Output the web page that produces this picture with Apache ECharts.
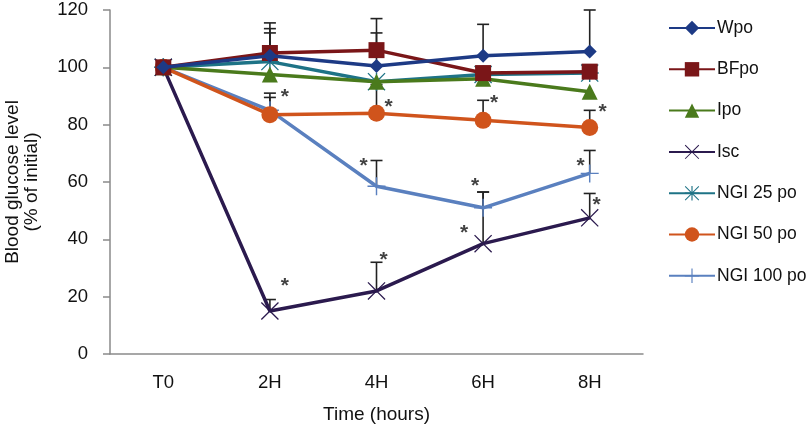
<!DOCTYPE html>
<html><head><meta charset="utf-8">
<script src="https://cdn.jsdelivr.net/npm/echarts@6/dist/echarts.min.js"></script>
<style>html,body{margin:0;padding:0;background:#fff}#c{width:810px;height:428px}</style>
</head><body><div id="c"></div>
<script>
// ---- data ----
var categories = ['T0', '2H', '4H', '6H', '8H'];
var seriesNames = ['Wpo', 'BFpo', 'Ipo', 'Isc', 'NGI 25 po', 'NGI 50 po', 'NGI 100 po'];
var wpo    = [100, 104, 100.5, 104, 105.5];
var bfpo   = [100, 105, 106, 98, 98.5];
var ipo    = [100, 97.5, 95, 96, 91.5];
var isc    = [100, 15, 22, 38.5, 47.5];
var ngi25  = [100, 102, 95, 97.5, 98];
var ngi50  = [100, 83.5, 84, 81.5, 79];
var ngi100 = [100, 85, 58.5, 51, 63];
// upper end of error bars
var wpoErr    = [null, 115.5, 112, 115, 120];
var bfpoErr   = [null, 113.5, 117, null, null];
var ngi25Err  = [null, 112, null, null, null];
var iscErr    = [null, 19, 32, 56.5, 56];
var ngi50Err  = [null, 89.5, 94, 88.5, 85];
var ngi100Err = [null, 91, 67.5, 56.5, 71];
// significance asterisks (category, value level)
var starCats = ['2H', '4H', '4H', '6H', '8H', '6H', '8H', '2H', '4H', '6H', '8H'];
var starVals = [90.7, 87.2, 66.6, 88.6, 85.5, 59.6, 66.6, 24.8, 33.8, 43.2, 53];
var yTicks = [0, 20, 40, 60, 80, 100, 120];

// ---- styles ----
var starDx = [15, 12, -13, 11, 13, -8, -9, 15, 7, -19, 7];
var colors = ['#1d3a85', '#7a1618', '#4a7a1c', '#2b1a4e', '#1e7386', '#d0541c', '#5a80bf'];
var symX = 'path://M1,0 L10,9 L19,0 L20,1 L11,10 L20,19 L19,20 L10,11 L1,20 L0,19 L9,10 L0,1 Z';
var symPlus = 'path://M9.2,0 H10.8 V9.2 H20 V10.8 H10.8 V20 H9.2 V10.8 H0 V9.2 H9.2 Z';
var symAst = 'path://M9.2,0 H10.8 V9.2 H20 V10.8 H10.8 V20 H9.2 V10.8 H0 V9.2 H9.2 Z M1,0 L10,9 L19,0 L20,1 L11,10 L20,19 L19,20 L10,11 L1,20 L0,19 L9,10 L0,1 Z';
var symbols = ['diamond', 'rect', 'triangle', symX, symAst, 'circle', symPlus];
var sizes = [14, 16, 16, 18, 18, 17, 18];
var values = [wpo, bfpo, ipo, isc, ngi25, ngi50, ngi100];
var errs = [wpoErr, bfpoErr, null, iscErr, ngi25Err, ngi50Err, ngi100Err];
var FONT = 'Liberation Sans';

var errData = [];
errs.forEach(function (e, si) {
  if (!e) return;
  e.forEach(function (top, i) {
    if (top != null) errData.push([i, values[si][i], top]);
  });
});

var series = [{
  type: 'custom',
  name: 'err',
  z: 1,
  silent: true,
  data: errData,
  renderItem: function (params, api) {
    var p0 = api.coord([api.value(0), api.value(1)]);
    var p1 = api.coord([api.value(0), api.value(2)]);
    var hw = 6;
    return {
      type: 'group',
      children: [
        { type: 'line', shape: { x1: p0[0], y1: p0[1], x2: p1[0], y2: p1[1] }, style: { stroke: '#222', lineWidth: 1.6 } },
        { type: 'line', shape: { x1: p1[0] - hw, y1: p1[1], x2: p1[0] + hw, y2: p1[1] }, style: { stroke: '#222', lineWidth: 1.6 } }
      ]
    };
  }
}];

seriesNames.forEach(function (n, i) {
  series.push({
    type: 'line',
    name: n,
    z: 3 + (6 - i),
    data: values[i],
    symbol: symbols[i],
    symbolSize: sizes[i],
    showAllSymbol: true,
    lineStyle: { width: 3.5, color: colors[i] },
    itemStyle: { color: colors[i] },
    emphasis: { disabled: true }
  });
});

series.push({
  type: 'scatter',
  name: 'stars',
  z: 20,
  silent: true,
  symbolSize: 1,
  itemStyle: { color: 'rgba(0,0,0,0)' },
  data: starCats.map(function (c, i) {
    return {
      value: [c, starVals[i]],
      label: {
        show: true, formatter: '*', position: 'inside', offset: [starDx[i], 3],
        color: '#111', fontSize: 21, fontWeight: 'bold', fontFamily: FONT
      }
    };
  })
});

var chart = echarts.init(document.getElementById('c'), null, { renderer: 'canvas' });
chart.setOption({
  animation: false,
  backgroundColor: '#fff',
  textStyle: { fontFamily: FONT },
  grid: { left: 110, right: 167, top: 10, bottom: 74, containLabel: false, outerBoundsMode: 'none' },
  legend: {
    data: seriesNames,
    orient: 'vertical',
    left: 663,
    top: 14,
    itemWidth: 46,
    itemHeight: 18,
    itemGap: 23.3,
    textStyle: { fontSize: 17.5, color: '#111', fontFamily: FONT, padding: [0, 0, 0, -3] }
  },
  xAxis: {
    type: 'category',
    data: categories,
    boundaryGap: true,
    axisLine: { lineStyle: { color: '#8a8a8a', width: 1.5 } },
    axisTick: { show: false },
    axisLabel: { fontSize: 18.5, color: '#111', margin: 19 },
    name: 'Time (hours)',
    nameLocation: 'middle',
    nameGap: 51,
    nameTextStyle: { fontSize: 19, color: '#111' }
  },
  yAxis: {
    type: 'value',
    min: 0, max: 120, interval: 20,
    axisLine: { show: true, lineStyle: { color: '#8a8a8a', width: 1.5 } },
    axisTick: { show: true, inside: false, length: 7, lineStyle: { color: '#8a8a8a', width: 1.5 } },
    splitLine: { show: false },
    axisLabel: { fontSize: 18.5, color: '#111', margin: 22,
      formatter: function (v) { return yTicks.indexOf(v) >= 0 ? String(v) : ''; } },
    name: 'Blood glucose level\n(% of initial)',
    nameLocation: 'middle',
    nameGap: 69,
    nameTextStyle: { fontSize: 19, color: '#111', lineHeight: 19 }
  },
  series: series
});
</script>
</body></html>
